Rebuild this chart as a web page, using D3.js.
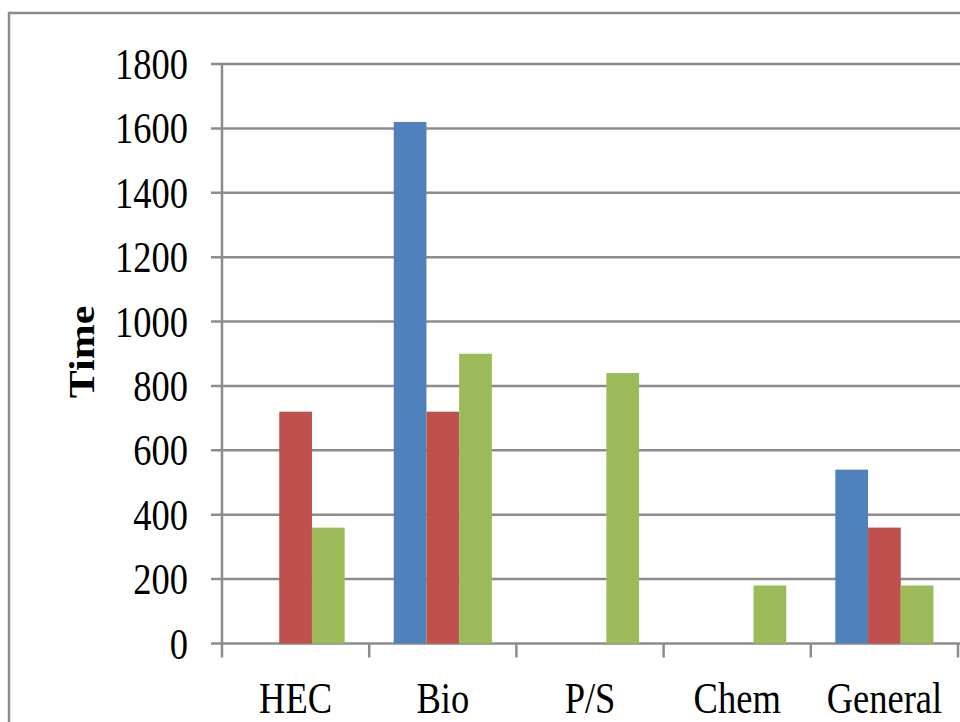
<!DOCTYPE html>
<html><head><meta charset="utf-8">
<script src="https://cdn.jsdelivr.net/npm/d3@7"></script>
<style>html,body{margin:0;padding:0;background:#fff;overflow:hidden}</style>
</head><body>
<script>
const categories = ["HEC", "Bio", "P/S", "Chem", "General"];
const seriesNames = ["Series1", "Series2", "Series3"];
const series1 = [0, 1620, 0, 0, 540];
const series2 = [720, 720, 0, 0, 360];
const series3 = [360, 900, 840, 180, 180];
const yTicks = [0, 200, 400, 600, 800, 1000, 1200, 1400, 1600, 1800];
const colors = ["#4F81BD", "#C0504D", "#9BBB59"];
const yTitle = "Time";

const W = 960, H = 722;
const svg = d3.select("body").append("svg").attr("width", W).attr("height", H);
svg.append("rect").attr("width", W).attr("height", H).attr("fill", "#fff");
svg.append("rect").attr("x", 9).attr("y", 13).attr("width", 1000).attr("height", 1000)
  .attr("fill", "none").attr("stroke", "#8a8a8a").attr("stroke-width", 2.5);

const pLeft = 222, pRight = 958, pTop = 64, pBottom = 643.5;
const x = d3.scaleBand().domain(categories).range([pLeft, pRight]).paddingInner(0).paddingOuter(0);
const y = d3.scaleLinear().domain([0, 1800]).range([pBottom, pTop]);
const bw = x.bandwidth() / 4.5;
const xs = d3.scaleBand().domain(seriesNames).range([bw * 0.75, bw * 3.75]).padding(0);

const grid = "#8c8c8c";
svg.append("g").selectAll("line").data(yTicks).join("line")
  .attr("x1", pLeft - 11).attr("x2", 960).attr("y1", d => y(d)).attr("y2", d => y(d))
  .attr("stroke", grid).attr("stroke-width", 2.5);
svg.append("line").attr("x1", pLeft).attr("x2", pLeft).attr("y1", pTop).attr("y2", pBottom + 14)
  .attr("stroke", grid).attr("stroke-width", 2.5);
const bounds = categories.map(c => x(c) + x.bandwidth());
svg.append("g").selectAll("line").data(bounds).join("line")
  .attr("x1", d => d).attr("x2", d => d).attr("y1", pBottom).attr("y2", pBottom + 14)
  .attr("stroke", grid).attr("stroke-width", 2.5);

const data = [series1, series2, series3];
data.forEach((vals, si) => {
  svg.append("g").selectAll("rect").data(vals.map((v, i) => ({v, c: categories[i]}))).join("rect")
    .attr("x", d => x(d.c) + xs(seriesNames[si]))
    .attr("width", xs.bandwidth())
    .attr("y", d => y(d.v))
    .attr("height", d => pBottom - y(d.v))
    .attr("fill", colors[si]);
});

const font = "'Liberation Serif','Times New Roman',serif";
const sx = 0.83;
svg.append("g").selectAll("text").data(yTicks).join("text")
  .attr("transform", d => `translate(188,${y(d) + 15}) scale(${sx},1)`)
  .attr("text-anchor", "end").attr("font-family", font).attr("font-size", 44).attr("fill", "#000")
  .text(d => d);
svg.append("g").selectAll("text").data(categories).join("text")
  .attr("transform", d => `translate(${x(d) + x.bandwidth() / 2},713) scale(${sx},1)`)
  .attr("text-anchor", "middle").attr("font-family", font).attr("font-size", 44).attr("fill", "#000")
  .text(d => d);
svg.append("text")
  .attr("transform", `translate(94,352) scale(${sx},1) rotate(-90)`)
  .attr("text-anchor", "middle").attr("font-family", font).attr("font-size", 42)
  .attr("font-weight", "bold").attr("fill", "#000").text(yTitle);
</script>
</body></html>
